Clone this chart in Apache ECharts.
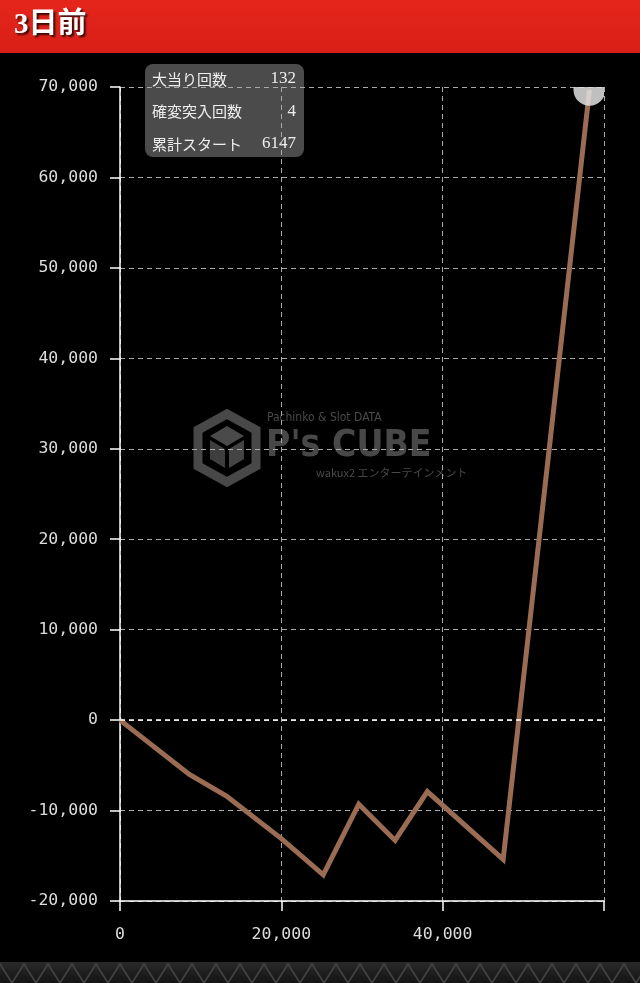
<!DOCTYPE html>
<html>
<head>
<meta charset="utf-8">
<script src="https://cdn.jsdelivr.net/npm/echarts@6/dist/echarts.min.js"></script>
<style>
html,body{margin:0;padding:0;background:#000;}
#c{width:640px;height:983px;}
</style>
</head>
<body>
<div id="c"></div>
<script>
// ---- data ----
const title = '3日前';
const xValues = [0, 8600, 13200, 20000, 25200, 29600, 34100, 38100, 47500, 58200];
const yValues = [0, -6000, -8400, -13100, -17100, -9300, -13300, -7900, -15400, 69700];
const infoLabels = ['大当り回数', '確変突入回数', '累計スタート'];
const infoValues = ['132', '4', '6147'];
const xTicks = { min: 0, max: 60000, interval: 20000 };
const yTicks = { min: -20000, max: 70000, interval: 10000 };

const points = xValues.map((x, i) => [x, yValues[i]]);
const fmt = v => String(v).replace(/\B(?=(\d{3})+(?!\d))/g, ',');
const mono = '"DejaVu Sans Mono", monospace';
const jp = '"Noto Sans CJK JP", sans-serif';

// decorative zigzag for footer strip
const zig = [];
for (let x = -12, k = 0; x <= 660; x += 12, k++) zig.push([x, k % 2 ? 964 : 983]);

const chart = echarts.init(document.getElementById('c'));
chart.setOption({
  backgroundColor: '#000',
  animation: false,
  grid: { left: 120, right: 36, top: 87, bottom: 82 },
  xAxis: {
    type: 'value', min: xTicks.min, max: xTicks.max, interval: xTicks.interval,
    axisLine: { show: true, onZero: false, lineStyle: { color: '#fff', width: 1.5 } },
    axisTick: { show: true, length: 10, lineStyle: { color: '#fff', width: 1.5 } },
    axisLabel: { color: '#ddd', fontFamily: mono, fontSize: 16.5, margin: 25,
      formatter: v => v === xTicks.max ? '' : fmt(v) },
    splitLine: { show: true, lineStyle: { color: '#aaa', type: [5, 4], width: 1 } }
  },
  yAxis: {
    type: 'value', min: yTicks.min, max: yTicks.max, interval: yTicks.interval,
    axisLine: { show: true, onZero: false, lineStyle: { color: '#fff', width: 1.5 } },
    axisTick: { show: true, length: 10, lineStyle: { color: '#fff', width: 1.5 } },
    axisLabel: { color: '#ddd', fontFamily: mono, fontSize: 16.5, margin: 22, formatter: v => fmt(v) },
    splitLine: { show: true, lineStyle: { color: '#aaa', type: [5, 4], width: 1 } }
  },
  series: [
    {
      type: 'line', data: points, showSymbol: false, symbol: 'none', z: 3,
      lineStyle: { color: '#9a6c54', width: 5, join: 'miter' },
      markLine: {
        silent: true, symbol: 'none', label: { show: false },
        lineStyle: { color: '#fff', type: [5, 4], width: 1.5 },
        data: [{ yAxis: 0 }]
      }
    },
    {
      type: 'custom', clip: true, z: 4,
      data: [points[points.length - 1]],
      renderItem: (params, api) => {
        const p = api.coord([api.value(0), api.value(1)]);
        return { type: 'circle', shape: { cx: p[0], cy: p[1], r: 16 },
          style: { fill: 'rgba(225,225,225,0.85)' } };
      }
    }
  ],
  graphic: [
    // header
    { type: 'rect', z: 10, shape: { x: 0, y: 0, width: 640, height: 53 },
      style: { fill: {
        type: 'linear', x: 0, y: 0, x2: 0, y2: 1,
        colorStops: [{ offset: 0, color: '#e4251c' }, { offset: 1, color: '#d91f17' }] } } },
    { type: 'text', z: 11, x: 14, y: 26,
      style: { text: title, fill: '#fff', font: 'bold 29px "Liberation Serif", "Noto Sans CJK JP", serif',
        verticalAlign: 'middle',
        textShadowColor: 'rgba(0,0,0,0.75)', textShadowBlur: 2, textShadowOffsetX: 2, textShadowOffsetY: 2 } },
    // footer strip
    { type: 'rect', z: 10, shape: { x: 0, y: 962, width: 640, height: 21 },
      style: { fill: { type: 'linear', x: 0, y: 0, x2: 0, y2: 1,
        colorStops: [{ offset: 0, color: '#2a2a2a' }, { offset: 1, color: '#141414' }] } } },
    { type: 'polyline', z: 11, shape: { points: zig }, style: { stroke: '#454545', lineWidth: 1.5, fill: null } },
    // watermark
    { type: 'group', z: 0, silent: true, children: [
      { type: 'polygon', shape: { points: [[227, 414], [256, 430], [256, 466], [227, 482], [198, 466], [198, 430]] },
        style: { fill: null, stroke: '#484848', lineWidth: 9 } },
      { type: 'polygon', shape: { points: [[227, 426], [244, 436], [227, 446], [210, 436]] }, style: { fill: '#4a4a4a' } },
      { type: 'polygon', shape: { points: [[210, 440], [225, 449], [225, 468], [210, 459]] }, style: { fill: '#3e3e3e' } },
      { type: 'polygon', shape: { points: [[229, 449], [244, 440], [244, 459], [229, 468]] }, style: { fill: '#444' } },
      { type: 'text', x: 267, y: 412, style: { text: 'Pachinko & Slot DATA', fill: '#4a4a4a', font: '12px "DejaVu Sans Condensed", sans-serif' } },
      { type: 'text', x: 266, y: 428, style: { text: "P's CUBE", fill: '#484848', font: 'bold 37px "DejaVu Sans Condensed", sans-serif' } },
      { type: 'text', x: 316, y: 467, style: { text: 'wakux2 エンターテインメント', fill: '#4a4a4a', font: '11px "Noto Sans CJK JP", sans-serif' } }
    ] },
    // info box
    { type: 'group', z: 20, children: [
      { type: 'rect', shape: { x: 145, y: 64, width: 159, height: 93, r: 8 }, style: { fill: 'rgba(88,88,88,0.85)' } }
    ].concat(infoLabels.map((t, i) => ({ type: 'text', x: 152, y: 79 + i * 32.5,
        style: { text: t, fill: '#eee', font: '15px ' + jp, verticalAlign: 'middle' } })))
     .concat(infoValues.map((t, i) => ({ type: 'text', x: 296, y: 79 + i * 32.5,
        style: { text: t, fill: '#eee', font: '17px "Liberation Serif", serif', align: 'right', verticalAlign: 'middle' } }))) }
  ]
});
</script>
</body>
</html>
